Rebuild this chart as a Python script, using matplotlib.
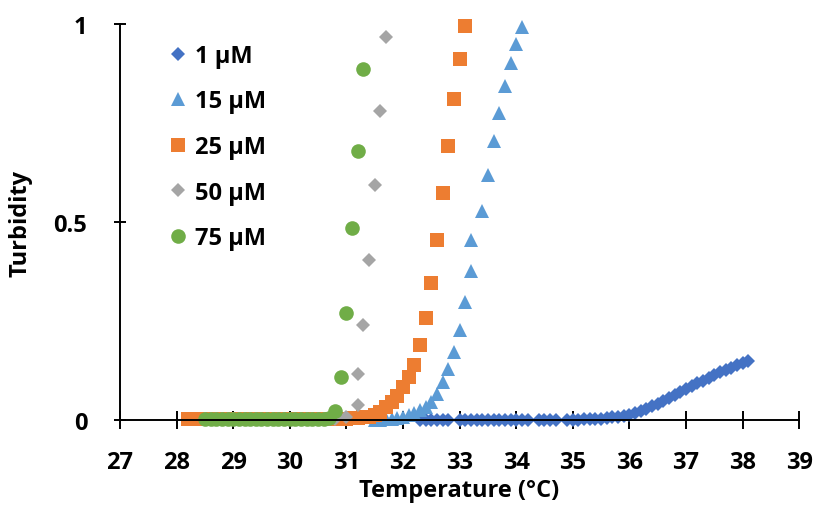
import matplotlib
matplotlib.use("Agg")
import matplotlib.pyplot as plt

# turbidity vs temperature for each concentration
t_1 = [32.3, 32.4, 32.5, 32.6, 32.7, 32.8,
       33.0, 33.1, 33.2, 33.3, 33.4, 33.5, 33.6, 33.7, 33.8, 33.9, 34.0, 34.1, 34.2,
       34.4, 34.5, 34.6, 34.7,
       34.9, 35.0, 35.1, 35.2, 35.3, 35.4, 35.5, 35.6, 35.7, 35.8, 35.9, 36.0, 36.1,
       36.2, 36.3, 36.4, 36.5, 36.6, 36.7, 36.8, 36.9, 37.0, 37.1, 37.2, 37.3, 37.4,
       37.5, 37.6, 37.7, 37.8, 37.9, 38.0, 38.1]
y_1 = [0.0, 0.0, 0.0, 0.0, 0.0, 0.0,
       0.0, 0.0, 0.0, 0.0, 0.0, 0.0, 0.0, 0.0, 0.0, 0.0, 0.0, 0.0, 0.0,
       0.0, 0.0, 0.0, 0.0,
       0.0, 0.0, 0.0, 0.001, 0.001, 0.002, 0.003, 0.004, 0.006, 0.008, 0.010, 0.013, 0.017,
       0.022, 0.028, 0.034, 0.040, 0.047, 0.054, 0.062, 0.070, 0.078, 0.085, 0.092, 0.099, 0.106,
       0.113, 0.120, 0.126, 0.132, 0.138, 0.143, 0.149]

t_15 = [31.5, 31.6, 31.7, 31.8, 31.9, 32.0, 32.1, 32.2, 32.3, 32.4, 32.5, 32.6, 32.7,
        32.8, 32.9, 33.0, 33.1, 33.2, 33.2, 33.4, 33.5, 33.6, 33.7, 33.8, 33.9, 34.0, 34.1]
y_15 = [0.0, 0.0, 0.001, 0.002, 0.004, 0.007, 0.011, 0.016, 0.024, 0.033, 0.044, 0.065, 0.095,
        0.128, 0.172, 0.228, 0.298, 0.377, 0.455, 0.529, 0.619, 0.706, 0.776, 0.843, 0.902, 0.950, 0.992]

t_25 = [28.2, 28.3, 28.4, 28.5, 28.6, 28.7, 28.8, 28.9, 29.0, 29.1, 29.2, 29.3, 29.4,
        29.5, 29.6, 29.7, 29.8, 29.9, 30.0, 30.1, 30.2, 30.3, 30.4, 30.5, 30.6, 30.7,
        30.8, 30.9, 31.0, 31.1, 31.2, 31.3, 31.4, 31.5, 31.6, 31.7, 31.8, 31.9, 32.0,
        32.1, 32.2, 32.3, 32.4, 32.5, 32.6, 32.7, 32.8, 32.9, 33.0, 33.1]
y_25 = [0.002, 0.002, 0.002, 0.002, 0.002, 0.002, 0.002, 0.002, 0.002, 0.002, 0.002, 0.002, 0.002,
        0.002, 0.002, 0.002, 0.002, 0.002, 0.002, 0.002, 0.002, 0.002, 0.002, 0.002, 0.002, 0.002,
        0.002, 0.003, 0.003, 0.004, 0.005, 0.006, 0.008, 0.012, 0.019, 0.031, 0.044, 0.061, 0.082,
        0.107, 0.139, 0.189, 0.257, 0.346, 0.454, 0.573, 0.693, 0.811, 0.912, 0.996]

t_50 = [28.5, 28.6, 28.7, 28.8, 28.9, 29.0, 29.1, 29.2, 29.3, 29.4, 29.5, 29.6, 29.7,
        29.8, 29.9, 30.0, 30.1, 30.2, 30.3, 30.4, 30.5, 30.6, 30.7, 30.8, 31.0,
        31.2, 31.2, 31.3, 31.4, 31.5, 31.6, 31.7]
y_50 = [0.001, 0.001, 0.001, 0.001, 0.001, 0.001, 0.001, 0.001, 0.001, 0.001, 0.001, 0.001, 0.001,
        0.001, 0.001, 0.001, 0.001, 0.001, 0.001, 0.001, 0.001, 0.001, 0.001, 0.002, 0.006,
        0.037, 0.116, 0.240, 0.405, 0.594, 0.781, 0.969]

t_75 = [28.5, 28.6, 28.7, 28.8, 28.9, 29.0, 29.1, 29.2, 29.3, 29.4, 29.5, 29.6, 29.7,
        29.8, 29.9, 30.0, 30.1, 30.2, 30.3, 30.4, 30.5, 30.6, 30.7, 30.8, 30.9, 31.0,
        31.1, 31.2, 31.3]
y_75 = [0.001, 0.001, 0.001, 0.001, 0.001, 0.001, 0.001, 0.001, 0.001, 0.001, 0.001, 0.001, 0.001,
        0.001, 0.001, 0.001, 0.001, 0.001, 0.001, 0.001, 0.001, 0.002, 0.004, 0.023, 0.107, 0.269,
        0.484, 0.680, 0.887]

plt.rcParams['font.family'] = ['Open Sans', 'DejaVu Sans']
plt.rcParams['font.weight'] = 'bold'
fs = 17

fig = plt.figure(figsize=(8.18, 5.10), dpi=100)
ax = fig.add_axes([0.1467, 0.1751, 0.8303, 0.7753])

ax.plot(t_1, y_1, 'D', color='#4472C4', ms=7.6, mew=0, label='1 µM', clip_on=False)
ax.plot(t_15, y_15, '^', color='#5B9BD5', ms=10.5, mew=0, label='15 µM', clip_on=False)
ax.plot(t_25, y_25, 's', color='#ED7D31', ms=10.5, mew=0, label='25 µM', clip_on=False)
ax.plot(t_50, y_50, 'D', color='#A5A5A5', ms=7.6, mew=0, label='50 µM', clip_on=False)
ax.plot(t_75, y_75, 'o', color='#70AD47', ms=10.5, mew=0, label='75 µM', clip_on=False)

ax.set_xlim(27, 39)
ax.set_ylim(0, 1)
ax.set_xticks(range(27, 40))
ax.set_yticks([0, 0.5, 1])
ax.set_yticklabels(['0', '0.5', '1'])
ax.spines['top'].set_visible(False)
ax.spines['right'].set_visible(False)
ax.spines['left'].set_linewidth(1.4)
ax.spines['bottom'].set_linewidth(1.4)
ax.tick_params(axis='x', direction='inout', length=13, width=1.4, labelsize=fs, pad=15)
ax.tick_params(axis='y', direction='inout', length=9, width=1.4, labelsize=fs, pad=19)
for lab in ax.get_xticklabels() + ax.get_yticklabels():
    lab.set_fontweight('bold')

ax.set_xlabel('Temperature (°C)', fontsize=fs, fontweight='bold', labelpad=3)
ax.set_ylabel('Turbidity', fontsize=fs, fontweight='bold', labelpad=15)

ax.legend(loc='upper left', bbox_to_anchor=(0.207, 0.912), bbox_transform=fig.transFigure,
          frameon=False, prop={'size': fs, 'weight': 'bold'}, handlelength=0.7,
          handletextpad=0.4, labelspacing=0.915, borderpad=0, borderaxespad=0)

fig.savefig('out.png', dpi=100)
